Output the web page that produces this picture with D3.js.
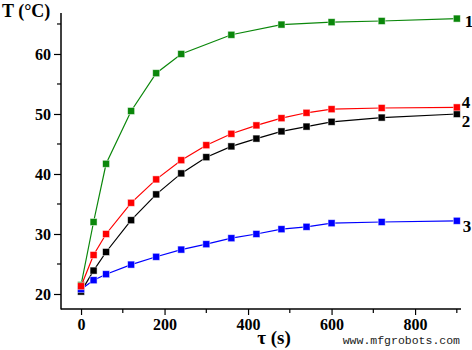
<!DOCTYPE html>
<html>
<head>
<meta charset="utf-8">
<script src="https://cdn.jsdelivr.net/npm/d3@7"></script>
<style>
  html, body { margin: 0; padding: 0; background: #fff; }
  svg { display: block; }
</style>
</head>
<body>
<svg id="chart" width="472" height="350"></svg>
<script>
// Heating curves: temperature T (°C) versus time τ (s)
const timeFull = [0, 30, 60, 120, 180, 240, 300, 360, 420, 480, 540, 600, 720, 900];
const timeCurve1 = [0, 30, 60, 120, 180, 240, 360, 480, 600, 720, 900];

const curve1 = [21.5, 32.0, 41.7, 50.5, 56.8, 60.0, 63.2, 64.9, 65.3, 65.5, 65.9];
const curve2 = [20.4, 23.9, 27.0, 32.3, 36.6, 40.1, 42.8, 44.6, 45.9, 47.1, 47.9, 48.7, 49.4, 50.0];
const curve3 = [20.8, 22.3, 23.3, 24.9, 26.2, 27.4, 28.3, 29.3, 30.0, 30.8, 31.2, 31.8, 32.0, 32.2];
const curve4 = [21.3, 26.5, 30.0, 35.2, 39.1, 42.3, 44.8, 46.7, 48.1, 49.3, 50.2, 50.8, 51.0, 51.1];

const seriesNames = ["1", "2", "3", "4"];
const seriesColors = ["#0a870a", "#000000", "#0000ff", "#ff0000"];

const xTicks = [0, 200, 400, 600, 800];
const xMinorTicks = [100, 300, 500, 700, 900];
const yTicks = [20, 30, 40, 50, 60];
const yMinorTicks = [25, 35, 45, 55, 65];

const series = [
  { name: seriesNames[0], color: seriesColors[0], t: timeCurve1, v: curve1, dx: 8, dy: 8 },
  { name: seriesNames[1], color: seriesColors[1], t: timeFull, v: curve2, dx: 5, dy: 13 },
  { name: seriesNames[2], color: seriesColors[2], t: timeFull, v: curve3, dx: 6, dy: 11 },
  { name: seriesNames[3], color: seriesColors[3], t: timeFull, v: curve4, dx: 5, dy: 1 }
];

const serif = "'Liberation Serif', 'Times New Roman', serif";
const svg = d3.select("#chart");
const plotLeft = 61, plotRight = 461, plotTop = 13, plotBottom = 309;

const x = d3.scaleLinear().domain([-48, 910]).range([plotLeft, plotRight]);
const y = d3.scaleLinear().domain([17.5, 66.83]).range([plotBottom, plotTop]);

// Axes
const xAxis = d3.axisBottom(x).tickValues(xTicks).tickSize(6).tickPadding(4).tickFormat(d3.format("d"));
const yAxis = d3.axisLeft(y).tickValues(yTicks).tickSize(7).tickPadding(3).tickFormat(d3.format("d"));

const gx = svg.append("g").attr("transform", `translate(0,${plotBottom})`).call(xAxis);
const gy = svg.append("g").attr("transform", `translate(${plotLeft},0)`).call(yAxis);

[gx, gy].forEach(g => {
  g.select(".domain").remove();
  g.selectAll(".tick line").attr("stroke", "#000").attr("stroke-width", 1.2);
  g.selectAll(".tick text")
    .style("font-family", serif)
    .style("font-weight", "bold")
    .style("font-size", "16px")
    .attr("fill", "#000");
});

// Minor ticks
svg.append("g").selectAll("line").data(xMinorTicks).join("line")
  .attr("x1", d => x(d)).attr("x2", d => x(d))
  .attr("y1", plotBottom).attr("y2", plotBottom + 4)
  .attr("stroke", "#000").attr("stroke-width", 1.2);
svg.append("g").selectAll("line").data(yMinorTicks).join("line")
  .attr("x1", plotLeft - 4).attr("x2", plotLeft)
  .attr("y1", d => y(d)).attr("y2", d => y(d))
  .attr("stroke", "#000").attr("stroke-width", 1.2);

// Axis lines (left and bottom only)
svg.append("line").attr("x1", plotLeft).attr("x2", plotLeft).attr("y1", plotTop).attr("y2", plotBottom + 0.5)
  .attr("stroke", "#000").attr("stroke-width", 1.5);
svg.append("line").attr("x1", plotLeft).attr("x2", plotRight).attr("y1", plotBottom).attr("y2", plotBottom)
  .attr("stroke", "#000").attr("stroke-width", 1.5);

// Curves and markers
const line = d3.line().x(d => x(d[0])).y(d => y(d[1]));
const ms = 7;
series.forEach(s => {
  const pts = s.t.map((t, i) => [t, s.v[i]]);
  svg.append("path").datum(pts)
    .attr("d", line).attr("fill", "none")
    .attr("stroke", s.color).attr("stroke-width", 1.2);
  svg.append("g").selectAll("rect").data(pts).join("rect")
    .attr("x", d => x(d[0]) - ms / 2).attr("y", d => y(d[1]) - ms / 2)
    .attr("width", ms).attr("height", ms)
    .attr("fill", s.color)
    .attr("stroke", "#fff").attr("stroke-opacity", 0.6).attr("stroke-width", 0.8);
});

// Curve labels at the right end
series.forEach(s => {
  const last = s.v[s.v.length - 1];
  svg.append("text")
    .attr("x", x(900) + s.dx).attr("y", y(last) + s.dy)
    .style("font-family", serif).style("font-size", "17px").style("font-weight", "bold")
    .attr("fill", "#000")
    .text(s.name);
});

// Axis titles
svg.append("text").attr("x", 2).attr("y", 17)
  .style("font-family", serif).style("font-size", "18px").style("font-weight", "bold")
  .attr("fill", "#000")
  .text("T (°C)");
svg.append("text").attr("x", 274).attr("y", 344).attr("text-anchor", "middle")
  .style("font-family", serif).style("font-size", "19px").style("font-weight", "bold")
  .attr("fill", "#000")
  .text("τ (s)");

// Site credit
svg.append("text").attr("x", 460).attr("y", 344).attr("text-anchor", "end")
  .style("font-family", "'Liberation Mono', 'DejaVu Sans Mono', monospace")
  .style("font-size", "11.5px").attr("fill", "#222")
  .text("www.mfgrobots.com");
</script>
</body>
</html>
